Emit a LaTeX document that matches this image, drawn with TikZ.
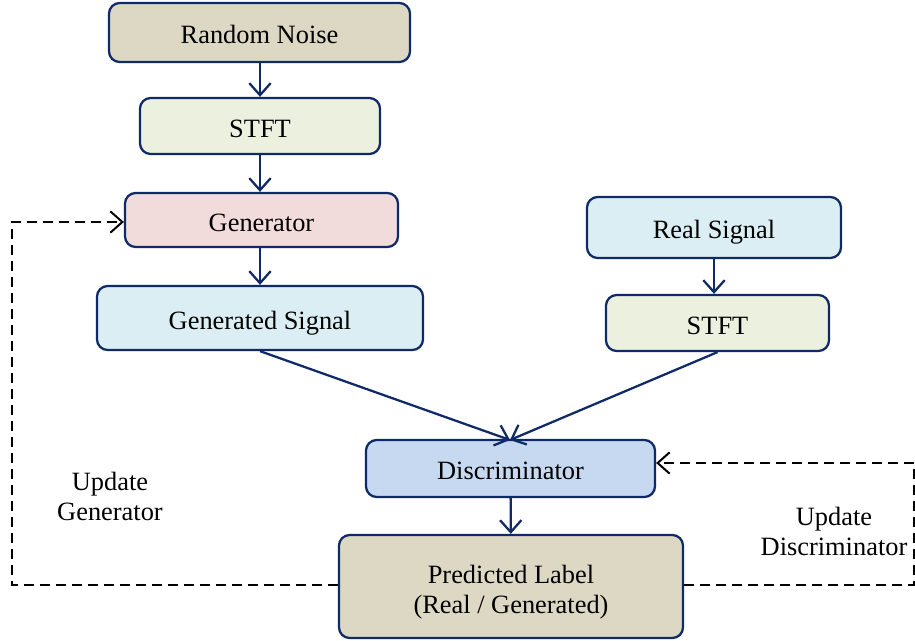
\documentclass[tikz,border=0pt]{standalone}
\usepackage{fontspec}
\setmainfont{Liberation Serif}
\usetikzlibrary{arrows.meta}
\definecolor{navy}{HTML}{0F2A66}
\definecolor{tanfill}{HTML}{DDD8C3}
\definecolor{greenfill}{HTML}{EBF1DE}
\definecolor{pinkfill}{HTML}{F2DCDB}
\definecolor{cyanfill}{HTML}{DBEEF4}
\definecolor{bluefill}{HTML}{C6D9F1}
\begin{document}
\begin{tikzpicture}[x=0.75pt,y=-0.75pt,
  box/.style={draw=navy,line width=1.7pt,rounded corners=8pt,minimum height=#1*0.75pt,inner sep=0pt,text height=17pt,text depth=0pt,font=\fontsize{19.8}{22.5}\selectfont,align=center},
  flow/.style={draw=navy,line width=1.7pt,-{Straight Barb[length=9pt,width=16pt,line width=1.7pt]}},
  fb/.style={draw=black,line width=1.5pt,dash pattern=on 7.5pt off 4.5pt,-{Straight Barb[length=9pt,width=16pt,line width=1.5pt]}},
  lbl/.style={font=\fontsize{19.8}{22.5}\selectfont,align=center}]
\useasboundingbox (0,0) rectangle (915,640);
\node[box=59,fill=tanfill,minimum width=301*0.75pt] (noise) at (259.5,32.5) {Random Noise};
\node[box=56,fill=greenfill,minimum width=240*0.75pt] (stft1) at (260,126) {STFT};
\node[box=54,fill=pinkfill,minimum width=273*0.75pt] (gen) at (261.5,220) {Generator};
\node[box=64,fill=cyanfill,minimum width=326*0.75pt] (gsig) at (260,318) {Generated Signal};
\node[box=61,fill=cyanfill,minimum width=254*0.75pt] (real) at (714,227.5) {Real Signal};
\node[box=56,fill=greenfill,minimum width=223*0.75pt] (stft2) at (717.5,323) {STFT};
\node[box=57,fill=bluefill,minimum width=289*0.75pt] (disc) at (510.5,468.5) {Discriminator};
\node[box=103,fill=tanfill,minimum width=344*0.75pt,
  label={[lbl,yshift=-4.5pt]center:Predicted Label\\(Real / Generated)}] (pred) at (511,586.5) {};
\coordinate (dtop) at (510,440);
\draw[flow] (noise.south -| 260,0) -- (stft1.north -| 260,0);
\draw[flow] (stft1.south -| 260,0) -- (gen.north -| 260,0);
\draw[flow] (gen.south -| 260,0) -- (gsig.north -| 260,0);
\draw[flow] (real.south -| 714,0) -- (stft2.north -| 714,0);
\draw[flow] (gsig.south) -- (dtop);
\draw[flow] (stft2.south) -- (dtop);
\draw[flow] (disc) -- (pred);
\coordinate (gl) at (12,585);
\coordinate (gu) at (12,222);
\coordinate (dr) at (914,585);
\coordinate (du) at (914,463);
\draw[fb] (pred.west |- gl) -- (gl) -- (gu) -- (gen.west |- gu);
\draw[fb] (pred.east |- dr) -- (dr) -- (du) -- (disc.east |- du);
\node[lbl] (ugen) at (110,496) {Update\\Generator};
\node[lbl] (udisc) at (834,531) {Update\\Discriminator};
\end{tikzpicture}
\end{document}
